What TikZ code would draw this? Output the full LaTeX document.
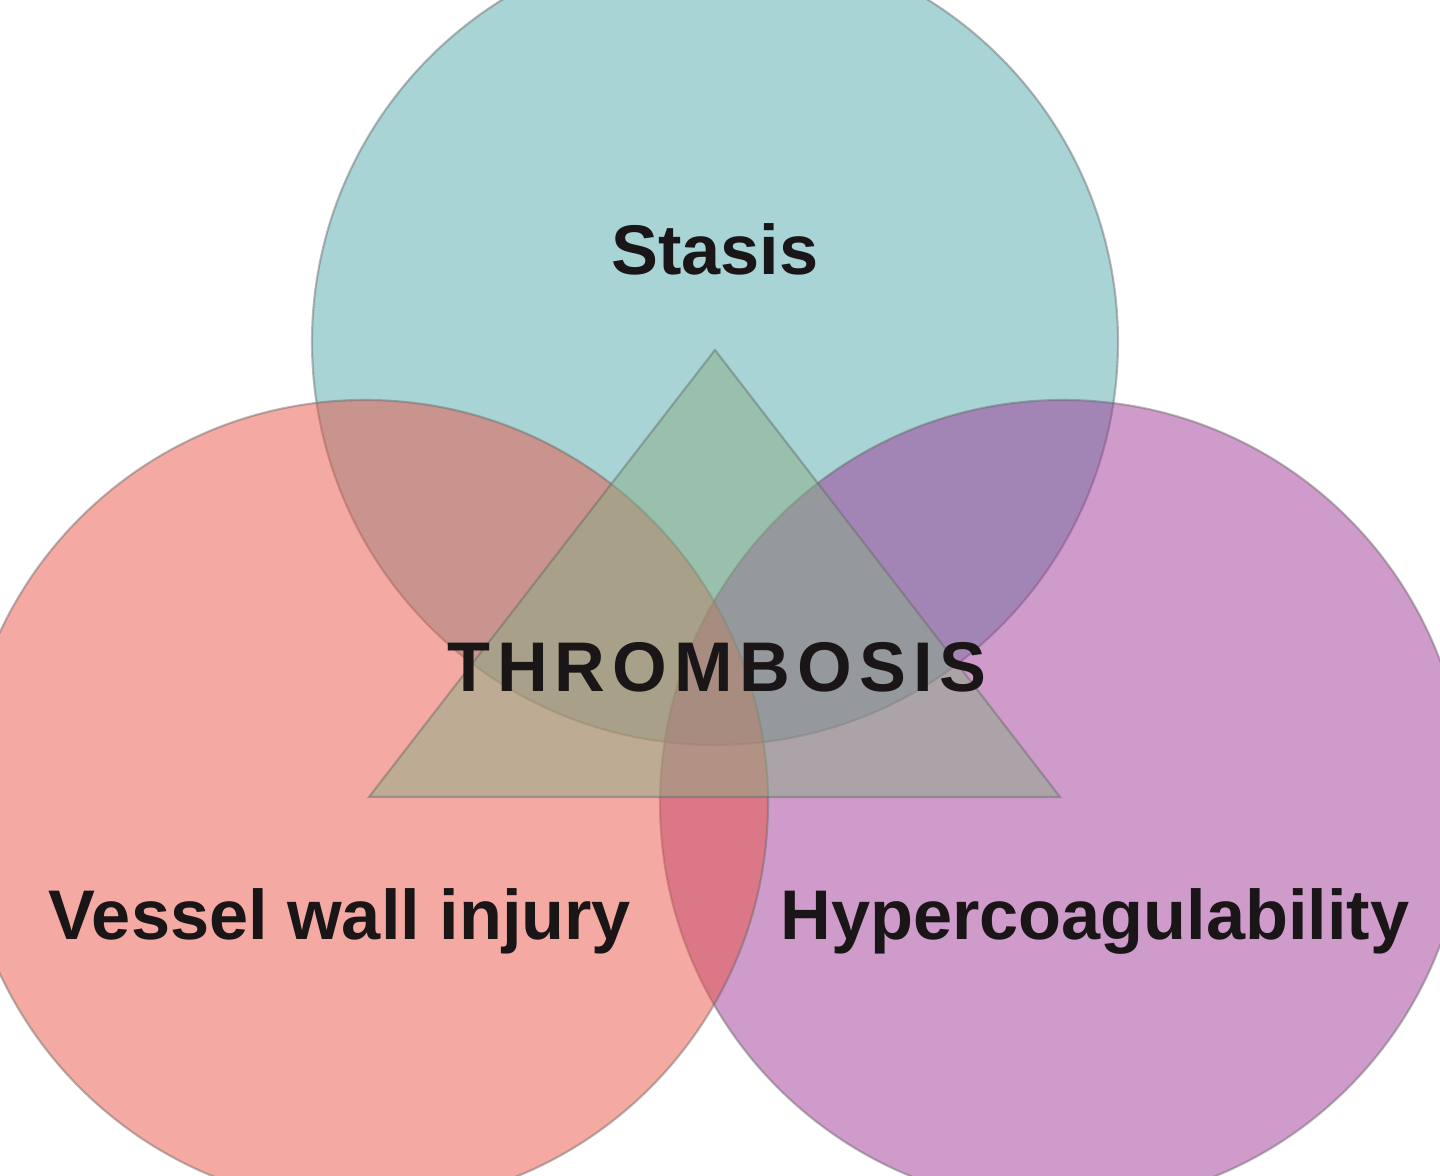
\documentclass[tikz,border=0pt]{standalone}
\usepackage{fontspec}
\setmainfont{Liberation Sans}
\definecolor{tealc}{RGB}{81,169,171}
\definecolor{redc}{RGB}{233,85,69}
\definecolor{purc}{RGB}{157,55,151}
\definecolor{tric}{RGB}{137,173,132}
\definecolor{txtc}{RGB}{26,22,24}
\tikzset{
	venn/.style={fill opacity=.5,draw=black!60,draw opacity=.45,line width=.6pt},
	lbl/.style={anchor=base,text=txtc,font=\fontsize{20}{24}\selectfont\bfseries,inner sep=0pt}
}
\begin{document}
\begin{tikzpicture}[x=1cm,y=1cm]
	\def\r{4.03} % ban kinh cac duong tron
	\useasboundingbox (0,0) rectangle (14.4,11.76);
	\begin{scope}
		\clip (0,0) rectangle (14.4,11.76);
		% ba duong tron
		\draw[venn,fill=tealc] (7.15,8.34) circle (\r);
		\draw[venn,fill=purc] (10.63,3.73) circle (\r);
		\draw[venn,fill=redc] (3.65,3.73) circle (\r);
		% tam giac
		\draw[venn,fill=tric] (7.15,8.26)--(3.69,3.79)--(10.60,3.79)--cycle;
	\end{scope}
	\node[lbl] (stasis) at (7.15,9.01) {Stasis};
	\node[lbl] (thrombosis) at (7.17,4.84) {\addfontfeature{LetterSpace=10}THROMBOSIS};
	\node[lbl] (vessel) at (3.40,2.36) {Vessel wall injury};
	\node[lbl] (hyper) at (10.95,2.36) {Hypercoagulability};
\end{tikzpicture}
\end{document}
